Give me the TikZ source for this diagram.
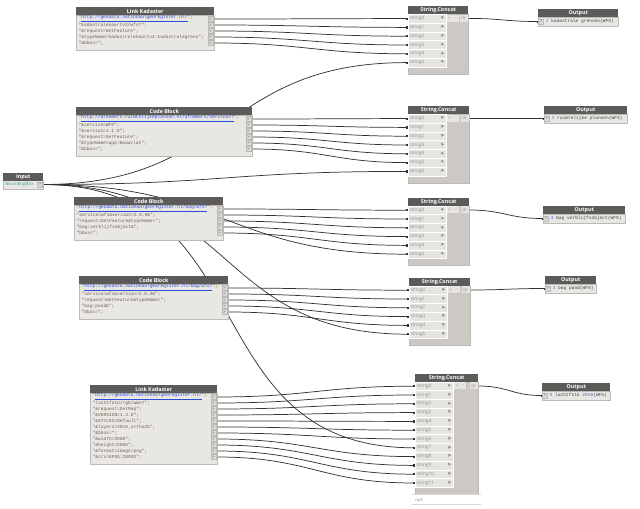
\documentclass[tikz,border=0pt]{standalone}
\usepackage{fontspec}
\setmainfont{Open Sans}
\newfontfamily\codefont{Liberation Mono}
\usetikzlibrary{calc,arrows.meta}
\definecolor{hdr}{HTML}{5C5B59}
\definecolor{bodyc}{HTML}{E9E7E3}
\definecolor{rowc}{HTML}{E6E4E0}
\definecolor{cbody}{HTML}{CCC9C4}
\definecolor{strc}{HTML}{6F6252}
\definecolor{urlc}{HTML}{2B4BD9}
\definecolor{portc}{HTML}{DCDAD6}
\definecolor{edgec}{HTML}{BDBAB5}
\definecolor{wirec}{HTML}{333333}
\definecolor{lblc}{HTML}{8E8B86}
\definecolor{idxc}{HTML}{3B6FD6}
\definecolor{tealc}{HTML}{3E9E94}
\pgfdeclarelayer{bg}
\pgfsetlayers{bg,main}
\tikzset{
  hdrbox/.style={fill=hdr,text=white,anchor=north west,inner sep=0pt,minimum height=8*0.75pt,font=\fontsize{4}{4}\selectfont\bfseries},
  bodybox/.style={fill=bodyc,draw=edgec,line width=0.3pt,anchor=north west,inner sep=0pt},
  cbodybox/.style={fill=cbody,draw=edgec,line width=0.3pt,anchor=north west,inner sep=0pt},
  codetxt/.style={anchor=west,inner sep=0pt,text=strc,font=\codefont\fontsize{3.4}{4}\selectfont},
  cport/.style={fill=portc,draw=edgec,line width=0.2pt,inner sep=0pt,minimum width=5*0.75pt,minimum height=5*0.75pt,text=black!70,font=\fontsize{3}{3}\selectfont},
  inrow/.style={fill=rowc,draw=white,line width=0.3pt,anchor=north west,inner xsep=1.5*0.75pt,inner ysep=0pt,text width=35*0.75pt,align=left,minimum height=8.8*0.75pt,text=lblc,font=\fontsize{3.4}{4}\selectfont},
  arr/.style={inner sep=0pt,text=black!80,font=\fontsize{3.6}{4}\selectfont\bfseries},
  btn/.style={fill=rowc,inner sep=0pt,minimum height=7*0.75pt,text=lblc,font=\fontsize{3.2}{4}\selectfont},
  wire/.style={draw=wirec,line width=0.55pt,-{Rectangle[length=1.2pt,width=1.4pt]}},
}
\newcommand{\codeblk}[7]{%
  \node[bodybox,minimum width=#5*0.75pt,minimum height=(#6*6+5)*0.75pt] (#1b) at (#3,#4+8) {};
  \node[hdrbox,minimum width=#5*0.75pt] (#1h) at (#3,#4) {#2};
  \foreach \codeline [count=\i from 0] in {#7} {
    \node[codetxt] (#1t\i) at (#3+2.5,#4+12+\i*6) {\codeline};
    \node[cport] (#1p\i) at (#3+#5-3.5,#4+12+\i*6) {>};
  }
}
\newcommand{\concatnode}[5]{%
  \pgfmathsetmacro\cbh{#4*8.8+7}
  \node[cbodybox,minimum width=#5*0.75pt,minimum height=\cbh*0.75pt] (#1b) at (#2,#3+8) {};
  \node[hdrbox,minimum width=#5*0.75pt] (#1h) at (#2,#3) {String.Concat};
  \pgfmathtruncatemacro\cnn{#4-1}
  \foreach \i in {0,...,\cnn} {
    \node[inrow] (#1in\i) at (#2,#3+8+\i*8.8) {string\i};
    \node[arr] (#1a\i) at (#2+34.5,#3+12.4+\i*8.8) {>};
  }
  \node[btn,minimum width=6*0.75pt] (#1plus) at (#2+41.5,#3+12.4) {+};
  \node[btn,minimum width=6*0.75pt] (#1minus) at (#2+48,#3+12.4) {-};
  \node[btn,minimum width=8*0.75pt] (#1out) at (#2+#5-4.5,#3+12.4) {str};
  \node[inner sep=0pt,text=lblc,font=\fontsize{3}{3}\selectfont] (#1grip) at (#2+#5-3,#3+8+\cbh-3.5) {.};
}
\newcommand{\outnode}[6]{%
  \node[bodybox,minimum width=#4*0.75pt,minimum height=9*0.75pt] (#1b) at (#2,#3+8) {};
  \node[hdrbox,minimum width=#4*0.75pt] (#1h) at (#2,#3) {Output};
  \node[cport] (#1in) at (#2+3,#3+12.5) {>};
  \node[codetxt,text=black!75] (#1t) at (#2+7.5,#3+12.5) {\textcolor{idxc}{#5}\ #6};
}
\begin{document}
\begin{tikzpicture}[x=0.75pt,y=-0.75pt]
\begin{pgfonlayer}{bg}
\fill[white] (0,0) rectangle (640,509);
\end{pgfonlayer}
\useasboundingbox (0,0) rectangle (640,509);

% Input
\node[bodybox,minimum width=40*0.75pt,minimum height=9*0.75pt] (inb) at (3,180) {};
\node[hdrbox,minimum width=40*0.75pt] (inh) at (3,172.5) {Input};
\node[anchor=west,inner sep=0pt,text=tealc,font=\fontsize{3.4}{4}\selectfont] (inlbl) at (5,184.5) {BoundingBox};
\node[cport] (inp) at (40,184.5) {>};

% Code blocks
\codeblk{b1}{Link Kadaster}{76}{7}{138}{5}{%
{"\textcolor{urlc}{\underline{http://geodata.nationaalgeoregister.nl/}}";},
{"kadastralekaartv2/wfs?";},
{"\&request=GetFeature";},
{"\&typeName=kadastralekaartv2:kadastralegrens";},
{"\&bbox=";}}
\codeblk{b2}{Code Block}{76}{107}{176}{6}{%
{"\textcolor{urlc}{\underline{http://afnemers.ruimtelijkeplannen.nl/afnemers/services?}}";},
{"\&service=WFS";},
{"\&version=1.1.0";},
{"\&request=GetFeature";},
{"\&typeName=app:Bouwvlak";},
{"\&bbox=";}}
\codeblk{b3}{Code Block}{74}{197}{149}{5}{%
{"\textcolor{urlc}{\underline{http://geodata.nationaalgeoregister.nl/bag/wfs?}}";},
{"service=wfs\&version=2.0.0\&";},
{"request=GetFeature\&typeName=";},
{"bag:verblijfsobject\&";},
{"bbox=";}}
\codeblk{b4}{Code Block}{79}{276}{149}{5}{%
{"\textcolor{urlc}{\underline{http://geodata.nationaalgeoregister.nl/bag/wfs?}}";},
{"service=wfs\&version=2.0.0\&";},
{"request=GetFeature\&typeName=";},
{"bag:pand\&";},
{"bbox=";}}
\codeblk{b5}{Link Kadaster}{90}{385}{127}{11}{%
{"\textcolor{urlc}{\underline{http://geodata.nationaalgeoregister.nl/}}";},
{"luchtfoto/rgb/wms?";},
{"\&request=GetMap";},
{"\&VERSION=1.3.0";},
{"\&STYLES=default";},
{"\&layers=2016\_ortho25";},
{"\&bbox=";},
{"\&width=2000";},
{"\&height=2000";},
{"\&format=image/png";},
{"\&crs=EPSG:28992";}}

% Concat nodes
\concatnode{c1}{408}{6}{6}{60}
\concatnode{c2}{408}{106}{7}{61}
\concatnode{c3}{408}{197.6}{6}{61}
\concatnode{c4}{409}{277.6}{6}{61}
\concatnode{c5}{415}{373.6}{12}{63}

% preview under last concat
\draw[black!15,line width=0.4pt] (412,494) -- (481,494);
\draw[black!15,line width=0.4pt] (412,504) -- (481,504);
\node[anchor=west,inner sep=0pt,text=lblc,font=\fontsize{3.2}{4}\selectfont] (nulltxt) at (415,499.5) {null};

% Outputs
\outnode{o1}{538}{9}{80}{1}{kadastrale grenzen(WFS)}
\outnode{o2}{544}{106}{83}{2}{ruimtelijke plannen(WFS)}
\outnode{o3}{543}{206}{82}{3}{bag verblijfsobject(WFS)}
\outnode{o4}{545}{276}{51}{4}{bag pand(WFS)}
\outnode{o5}{542}{383}{68}{5}{luchtfoto \textcolor{idxc}{2016}(WFS)}

% Wires
\begin{pgfonlayer}{bg}
\foreach \i in {0,...,4} {\draw[wire] (b1p\i.east) to[out=0,in=180,looseness=1.2] (c1in\i.west);}
\foreach \i in {0,...,5} {\draw[wire] (b2p\i.east) to[out=0,in=180,looseness=1.2] (c2in\i.west);}
\foreach \i in {0,...,4} {\draw[wire] (b3p\i.east) to[out=0,in=180,looseness=1.2] (c3in\i.west);}
\foreach \i in {0,...,4} {\draw[wire] (b4p\i.east) to[out=0,in=180,looseness=1.2] (c4in\i.west);}
\foreach \i in {0,...,6} {\draw[wire] (b5p\i.east) to[out=0,in=180,looseness=1.2] (c5in\i.west);}
\foreach \i/\j in {7/8,8/9,9/10,10/11} {\draw[wire] (b5p\i.east) to[out=0,in=180,looseness=1.2] (c5in\j.west);}
\draw[wire] (inp.east) to[out=0,in=180,looseness=1.25] (c1in5.west);
\draw[wire] (inp.east) to[out=0,in=180,looseness=1.25] (c2in6.west);
\draw[wire] (inp.east) to[out=0,in=180,looseness=1.25] (c3in5.west);
\draw[wire] (inp.east) to[out=0,in=180,looseness=1.25] (c4in5.west);
\draw[wire] (inp.east) to[out=0,in=180,looseness=1.25] (c5in7.west);
\draw[wire] (c1out.east) to[out=0,in=180,looseness=1.2] (o1in.west);
\draw[wire] (c2out.east) to[out=0,in=180,looseness=1.2] (o2in.west);
\draw[wire] (c3out.east) to[out=0,in=180,looseness=1.2] (o3in.west);
\draw[wire] (c4out.east) to[out=0,in=180,looseness=1.2] (o4in.west);
\draw[wire] (c5out.east) to[out=0,in=180,looseness=1.2] (o5in.west);
\end{pgfonlayer}
\end{tikzpicture}
\end{document}
